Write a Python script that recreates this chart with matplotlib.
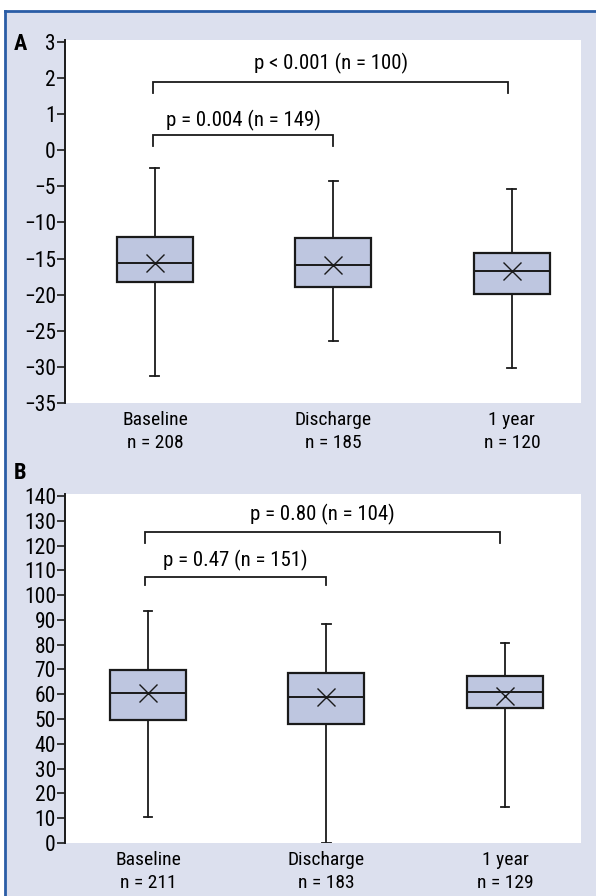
import numpy as np
import matplotlib.pyplot as plt
from matplotlib import font_manager
from matplotlib.patches import Rectangle
from matplotlib.lines import Line2D

# pick a narrow sans if one is installed
installed = {f.name for f in font_manager.fontManager.ttflist}
narrow = [n for n in ['Liberation Sans Narrow', 'DejaVu Sans Condensed', 'Roboto Condensed',
                      'Open Sans Condensed', 'Liberation Sans'] if n in installed]
FONT = narrow[:1] + ['DejaVu Sans']
plt.rcParams['font.family'] = FONT

# ---- data, panel A ----
labels_a = ['Baseline\nn = 208', 'Discharge\nn = 185', '1 year\nn = 120']
whishi_a = [-2.5, -4.2, -5.4]
q3_a = [-12.0, -12.1, -14.2]
med_a = [-15.6, -15.9, -16.7]
q1_a = [-18.2, -18.9, -19.9]
whislo_a = [-31.3, -26.4, -30.2]
mean_a = [-15.6, -15.9, -16.7]
ticks_a = [3, 2, 1, 0, -5, -10, -15, -20, -25, -30, -35]
pvals_a = ['p = 0.004 (n = 149)', 'p < 0.001 (n = 100)']

# ---- data, panel B ----
labels_b = ['Baseline\nn = 211', 'Discharge\nn = 183', '1 year\nn = 129']
whishi_b = [93.7, 88.2, 80.8]
q3_b = [69.6, 68.5, 67.2]
med_b = [60.4, 59.0, 61.0]
q1_b = [49.6, 48.0, 54.5]
whislo_b = [10.4, 0.0, 14.5]
mean_b = [60.4, 59.0, 59.4]
ticks_b = list(range(0, 141, 10))
pvals_b = ['p = 0.47 (n = 151)', 'p = 0.80 (n = 104)']

BG = '#dce0ee'
BOXC = '#bec6e0'
INK = '#1a1a1a'
positions = [1, 2, 3]

fig = plt.figure(figsize=(5.96, 8.96), dpi=100)
W, H = 596, 896

# lavender panel with blue top / left rule
fig.patches.append(Rectangle((5 / W, 0), 1, 1 - 11 / H, transform=fig.transFigure,
                             facecolor=BG, edgecolor='none', zorder=-5))
fig.lines.append(Line2D([5 / W, 1], [1 - 11 / H, 1 - 11 / H], transform=fig.transFigure,
                        color='#2a5da6', lw=2, zorder=-4))
fig.lines.append(Line2D([5 / W, 5 / W], [0, 1 - 11 / H], transform=fig.transFigure,
                        color='#2a5da6', lw=2, zorder=-4))


def fwd(y):
    y = np.asarray(y, dtype=float)
    return np.where(y >= 0, y, y / 5.0)


def inv(y):
    y = np.asarray(y, dtype=float)
    return np.where(y >= 0, y, y * 5.0)


def draw_panel(ax, labels, whishi, q3, med, q1, whislo, means, ticks, xlim):
    stats = []
    for i in range(len(labels)):
        stats.append(dict(med=med[i], q1=q1[i], q3=q3[i], whislo=whislo[i],
                          whishi=whishi[i], mean=means[i], fliers=[]))
    ax.bxp(stats, positions=positions, widths=0.426, showmeans=True, patch_artist=True,
           capwidths=0.05,
           boxprops=dict(facecolor=BOXC, edgecolor=INK, linewidth=1.6),
           medianprops=dict(color=INK, linewidth=1.4),
           whiskerprops=dict(color=INK, linewidth=1.3),
           capprops=dict(color=INK, linewidth=1.3),
           meanprops=dict(marker='x', markersize=13, markeredgecolor=INK,
                          markeredgewidth=1.0))
    ax.set_xlim(*xlim)
    ax.set_xticks(positions)
    ax.set_xticklabels(labels, fontsize=14, linespacing=1.3)
    ax.tick_params(axis='x', length=0, pad=6)
    ax.set_yticks(ticks)
    ax.set_yticklabels([str(t).replace('-', '\u2212') for t in ticks], fontsize=15.5)
    ax.tick_params(axis='y', length=5.5, width=1.2, pad=1, color=INK)
    ax.minorticks_off()
    for s in ['top', 'right', 'bottom']:
        ax.spines[s].set_visible(False)
    ax.spines['left'].set_linewidth(1.4)
    ax.spines['left'].set_color(INK)


def bracket(ax, x0, x1, ytop, ybot, text, ytext):
    ax.plot([x0, x0, x1, x1], [ybot, ytop, ytop, ybot], color=INK, lw=1.3,
            solid_joinstyle='miter')
    ax.text((x0 + x1) / 2, ytext, text, ha='center', va='center', fontsize=15)


# panel A
axA = fig.add_axes([65 / W, 1 - 403 / H, 516 / W, 363 / H], zorder=2)
axA.set_yscale('function', functions=(fwd, inv))
axA.set_ylim(-35, 3.05)
draw_panel(axA, labels_a, whishi_a, q3_a, med_a, q1_a, whislo_a, mean_a, ticks_a,
           (0.496, 3.387))
bracket(axA, 0.99, 2.0, 0.42, 0.12, pvals_a[0], 0.82)
bracket(axA, 0.99, 2.98, 1.9, 1.58, pvals_a[1], 2.4)
fig.text(20 / W, 1 - 44 / H, 'A', fontsize=16, fontweight='bold', ha='center', va='center')

# panel B
axB = fig.add_axes([65 / W, 1 - 843 / H, 516 / W, 349 / H], zorder=2)
axB.set_ylim(0, 140.8)
draw_panel(axB, labels_b, whishi_b, q3_b, med_b, q1_b, whislo_b, mean_b, ticks_b,
           (0.535, 3.426))
bracket(axB, 0.983, 2.0, 107.4, 104.1, pvals_b[0], 113.8)
bracket(axB, 0.983, 2.97, 125.6, 120.9, pvals_b[1], 132.6)
fig.text(20 / W, 1 - 473 / H, 'B', fontsize=16, fontweight='bold', ha='center', va='center')

fig.savefig('out.png', dpi=100)
